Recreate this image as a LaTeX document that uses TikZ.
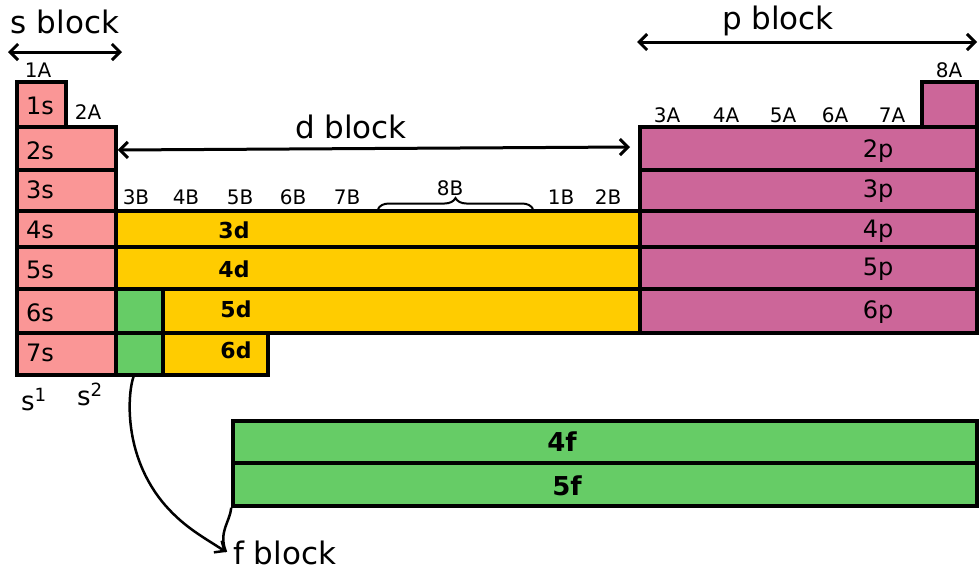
\documentclass[tikz,border=0pt]{standalone}
\usepackage{fontspec}
\setmainfont{DejaVu Sans}
\usetikzlibrary{arrows.meta,fit,decorations.pathreplacing}
\definecolor{sblk}{RGB}{250,150,150}
\definecolor{dblk}{RGB}{255,204,0}
\definecolor{pblk}{RGB}{204,102,153}
\definecolor{fblk}{RGB}{102,204,102}
\tikzset{
  cell/.style={draw=black, line width=3.5pt, inner sep=0pt, line join=miter},
  scell/.style={cell, fill=sblk},
  dcell/.style={cell, fill=dblk},
  pcell/.style={cell, fill=pblk},
  fcell/.style={cell, fill=fblk},
  blocktitle/.style={font=\fontsize{31}{34}\selectfont, inner sep=0pt},
  rowlab/.style={font=\fontsize{24}{26}\selectfont, inner sep=0pt},
  boldlab/.style={font=\fontsize{22}{24}\selectfont\bfseries, inner sep=0pt},
  flab/.style={font=\fontsize{26}{28}\selectfont\bfseries, inner sep=0pt},
  grplab/.style={font=\fontsize{20}{22}\selectfont, inner sep=0pt},
  span/.style={line width=3pt, {Straight Barb[length=8pt,width=16pt,line width=3pt]}-{Straight Barb[length=8pt,width=16pt,line width=3pt]}},
  pointer/.style={line width=2.5pt, -{Straight Barb[length=8pt,width=14pt,line width=2.5pt]}},
}
\begin{document}
\begin{tikzpicture}[x=1pt,y=-1pt]
\useasboundingbox (0,0) rectangle (979,571);

% s block cells
\node[scell, fit={(17,82)(66,127)}]   (s1) {};
\node[scell, fit={(17,127)(116,170)}] (s2) {};
\node[scell, fit={(17,170)(116,211)}] (s3) {};
\node[scell, fit={(17,211)(116,247)}] (s4) {};
\node[scell, fit={(17,247)(116,289)}] (s5) {};
\node[scell, fit={(17,289)(116,333)}] (s6) {};
\node[scell, fit={(17,333)(116,375)}] (s7) {};

% d block cells (with the two f-block slots)
\node[dcell, fit={(116,211)(640,247)}] (d3) {};
\node[dcell, fit={(116,247)(640,289)}] (d4) {};
\node[fcell, fit={(116,289)(163,333)}] (g6) {};
\node[dcell, fit={(163,289)(640,333)}] (d5) {};
\node[fcell, fit={(116,333)(163,375)}] (g7) {};
\node[dcell, fit={(163,333)(268,375)}] (d6) {};

% p block cells
\node[pcell, fit={(922,82)(977,127)}]  (p8) {};
\node[pcell, fit={(640,127)(977,170)}] (p2) {};
\node[pcell, fit={(640,170)(977,211)}] (p3) {};
\node[pcell, fit={(640,211)(977,247)}] (p4) {};
\node[pcell, fit={(640,247)(977,289)}] (p5) {};
\node[pcell, fit={(640,289)(977,333)}] (p6) {};

% f block cells
\node[fcell, fit={(233,421)(977,463)}] (f4) {};
\node[fcell, fit={(233,463)(977,506)}] (f5) {};

% row labels
\node[rowlab] (l1s) at (40,106) {1s};
\node[rowlab] (l2s) at (40,151) {2s};
\node[rowlab] (l3s) at (40,190) {3s};
\node[rowlab] (l4s) at (40,230) {4s};
\node[rowlab] (l5s) at (40,270) {5s};
\node[rowlab] (l6s) at (40,313) {6s};
\node[rowlab] (l7s) at (40,353) {7s};

\node[boldlab] (l3d) at (234,230) {3d};
\node[boldlab] (l4d) at (234,269) {4d};
\node[boldlab] (l5d) at (236,309) {5d};
\node[boldlab] (l6d) at (236,350) {6d};

\node[rowlab] (l2p) at (878,151) {2p};
\node[rowlab] (l3p) at (878,191) {3p};
\node[rowlab] (l4p) at (878,231) {4p};
\node[rowlab] (l5p) at (878,269) {5p};
\node[rowlab] (l6p) at (878,312) {6p};

\node[flab] (l4f) at (562,442) {4f};
\node[flab] (l5f) at (567,486) {5f};

% group numbers
\node[grplab] (g1A) at (38,70)  {1A};
\node[grplab] (g2A) at (88,112) {2A};
\node[grplab] (g3B) at (136,197) {3B};
\node[grplab] (g4B) at (186,197) {4B};
\node[grplab] (g5B) at (240,197) {5B};
\node[grplab] (g6B) at (293,197) {6B};
\node[grplab] (g7B) at (347,197) {7B};
\node[grplab] (g8B) at (450,188) {8B};
\node[grplab] (g1B) at (561,197) {1B};
\node[grplab] (g2B) at (608,197) {2B};
\node[grplab] (g3A) at (667,115) {3A};
\node[grplab] (g4A) at (726,115) {4A};
\node[grplab] (g5A) at (783,115) {5A};
\node[grplab] (g6A) at (835,115) {6A};
\node[grplab] (g7A) at (892,115) {7A};
\node[grplab] (g8A) at (949,70)  {8A};

% brace over the 8B columns
\coordinate (brL) at (378,209);
\coordinate (brR) at (533,209);
\draw[line width=2pt, decorate, decoration={brace, amplitude=11pt}] (brL) -- (brR);

% block titles and spans
\node[blocktitle] (tS) at (65,22)  {s block};
\node[blocktitle] (tD) at (351,127) {d block};
\node[blocktitle] (tP) at (778,21) {p block};
\node[blocktitle, anchor=west] (tF) at (233,553) {f block};

\coordinate (sL) at (8,52);
\coordinate (sR) at (122,52);
\draw[span] (sL) -- (sR);

\coordinate (dR) at (630,147);
\draw[span] ([yshift=-1.5pt]s2.east) -- (dR);

\coordinate (pL) at (637,42);
\coordinate (pR) at (977,42);
\draw[span] (pL) -- (pR);

% s1 / s2 column captions
\node[font=\fontsize{26}{28}\selectfont, inner sep=0pt] (cs1) at (34,400) {s\textsuperscript{1}};
\node[font=\fontsize{26}{28}\selectfont, inner sep=0pt] (cs2) at (90,394) {s\textsuperscript{2}};

% f block pointers
\coordinate (fTip) at (226,552);
\draw[pointer] ([xshift=-6pt]g7.south) .. controls (128,392) and (122,455) .. (165,505)
  .. controls (185,528) and (205,538) .. (fTip);
\draw[line width=2.5pt] (f5.south west) .. controls (230,522) and (218,532) .. (fTip);
\end{tikzpicture}
\end{document}
